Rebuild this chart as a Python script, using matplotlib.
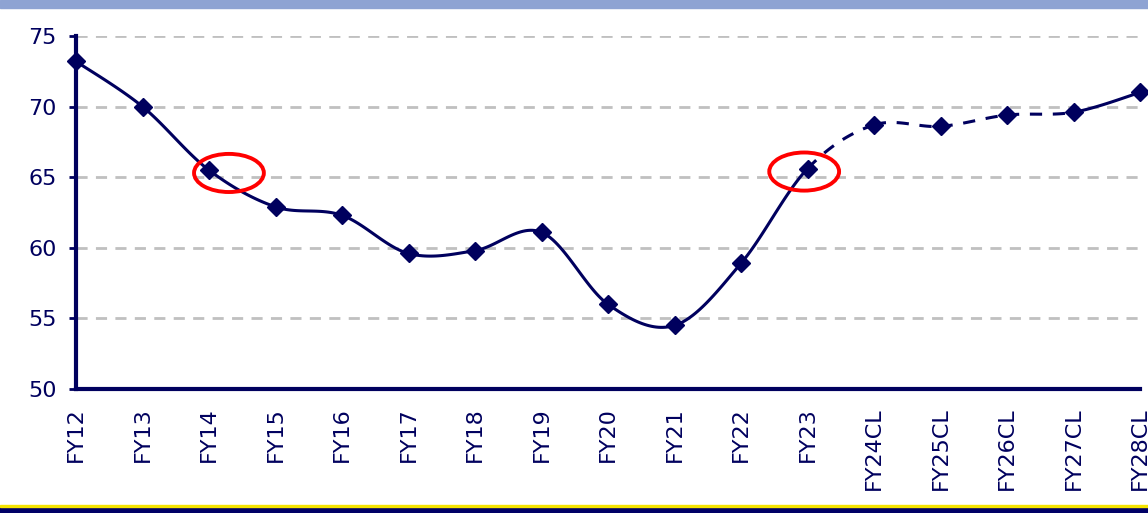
import numpy as np
import matplotlib
matplotlib.use("Agg")
import matplotlib.pyplot as plt
from matplotlib.patches import Ellipse, Rectangle

# data
labels = ["FY12", "FY13", "FY14", "FY15", "FY16", "FY17", "FY18", "FY19", "FY20",
          "FY21", "FY22", "FY23", "FY24CL", "FY25CL", "FY26CL", "FY27CL", "FY28CL"]
values = [73.2, 70.0, 65.5, 62.9, 62.3, 59.6, 59.8, 61.1, 56.0,
          54.5, 58.9, 65.6, 68.7, 68.6, 69.4, 69.6, 71.0]
dashed_segments = [11, 12, 13, 14]   # FY23 -> FY27CL drawn dashed
circled = ["FY14", "FY23"]

navy = "#00005E"


def smooth_segment(x, y, i, n=30):
    # catmull-rom style segment between point i and i+1 (like excel's smoothed line)
    p0 = (x[max(i - 1, 0)], y[max(i - 1, 0)])
    p1 = (x[i], y[i])
    p2 = (x[i + 1], y[i + 1])
    p3 = (x[min(i + 2, len(x) - 1)], y[min(i + 2, len(y) - 1)])
    c1 = (p1[0] + (p2[0] - p0[0]) / 6, p1[1] + (p2[1] - p0[1]) / 6)
    c2 = (p2[0] - (p3[0] - p1[0]) / 6, p2[1] - (p3[1] - p1[1]) / 6)
    t = np.linspace(0, 1, n)
    bx = (1 - t) ** 3 * p1[0] + 3 * (1 - t) ** 2 * t * c1[0] + 3 * (1 - t) * t ** 2 * c2[0] + t ** 3 * p2[0]
    by = (1 - t) ** 3 * p1[1] + 3 * (1 - t) ** 2 * t * c1[1] + 3 * (1 - t) * t ** 2 * c2[1] + t ** 3 * p2[1]
    return bx, by


fig = plt.figure(figsize=(11.48, 5.13), dpi=100)
ax = fig.add_axes([76 / 1148, 1 - 389 / 513, (1140 - 76) / 1148, (389 - 36) / 513])

x = np.arange(len(labels))
for i in range(len(x) - 1):
    sx, sy = smooth_segment(x, values, i)
    if i in dashed_segments:
        ax.plot(sx, sy, color=navy, lw=2.2, dashes=(4, 3.5), clip_on=False, zorder=3)
    else:
        ax.plot(sx, sy, color=navy, lw=2.2, clip_on=False, zorder=3)
ax.plot(x, values, ls="none", marker="D", ms=9, color=navy, clip_on=False, zorder=4)

# red circles
for lab in circled:
    i = labels.index(lab)
    ax.add_patch(Ellipse((i + 0.3 if lab == "FY14" else i - 0.05, values[i] - 0.2), 1.05, 2.7,
                         fill=False, ec="#FF0000", lw=2.8, zorder=5))

ax.set_xlim(0, len(labels) - 1)
ax.set_ylim(50, 75)
ax.set_yticks([50, 55, 60, 65, 70, 75])
ax.set_xticks(x)
ax.set_xticklabels(labels, rotation=90, fontsize=16, color=navy)
ax.set_xticks(x[::2], minor=True)
ax.tick_params(axis="x", which="major", length=0, pad=13)
ax.tick_params(axis="x", which="minor", length=5, width=2, color=navy)
ax.tick_params(axis="y", length=5, width=2, color=navy, labelsize=16, labelcolor=navy, pad=9)

for yv in [55, 60, 65, 70, 75]:
    ax.axhline(yv, color="#C0C0C0", lw=2, dashes=(4, 3), zorder=1)

for s in ["top", "right"]:
    ax.spines[s].set_visible(False)
for s in ["left", "bottom"]:
    ax.spines[s].set_color(navy)
    ax.spines[s].set_linewidth(3)

# decorative bands top and bottom
fig.patches.append(Rectangle((0, 1 - 8 / 513), 1, 8 / 513, transform=fig.transFigure,
                             color="#8EA3D3", zorder=0))
fig.patches.append(Rectangle((0, 0), 1, 6 / 513, transform=fig.transFigure,
                             color="#000066", zorder=0))
fig.patches.append(Rectangle((0, 6 / 513), 1, 2 / 513, transform=fig.transFigure,
                             color="#F5E400", zorder=0))

fig.savefig("out.png", dpi=100)
